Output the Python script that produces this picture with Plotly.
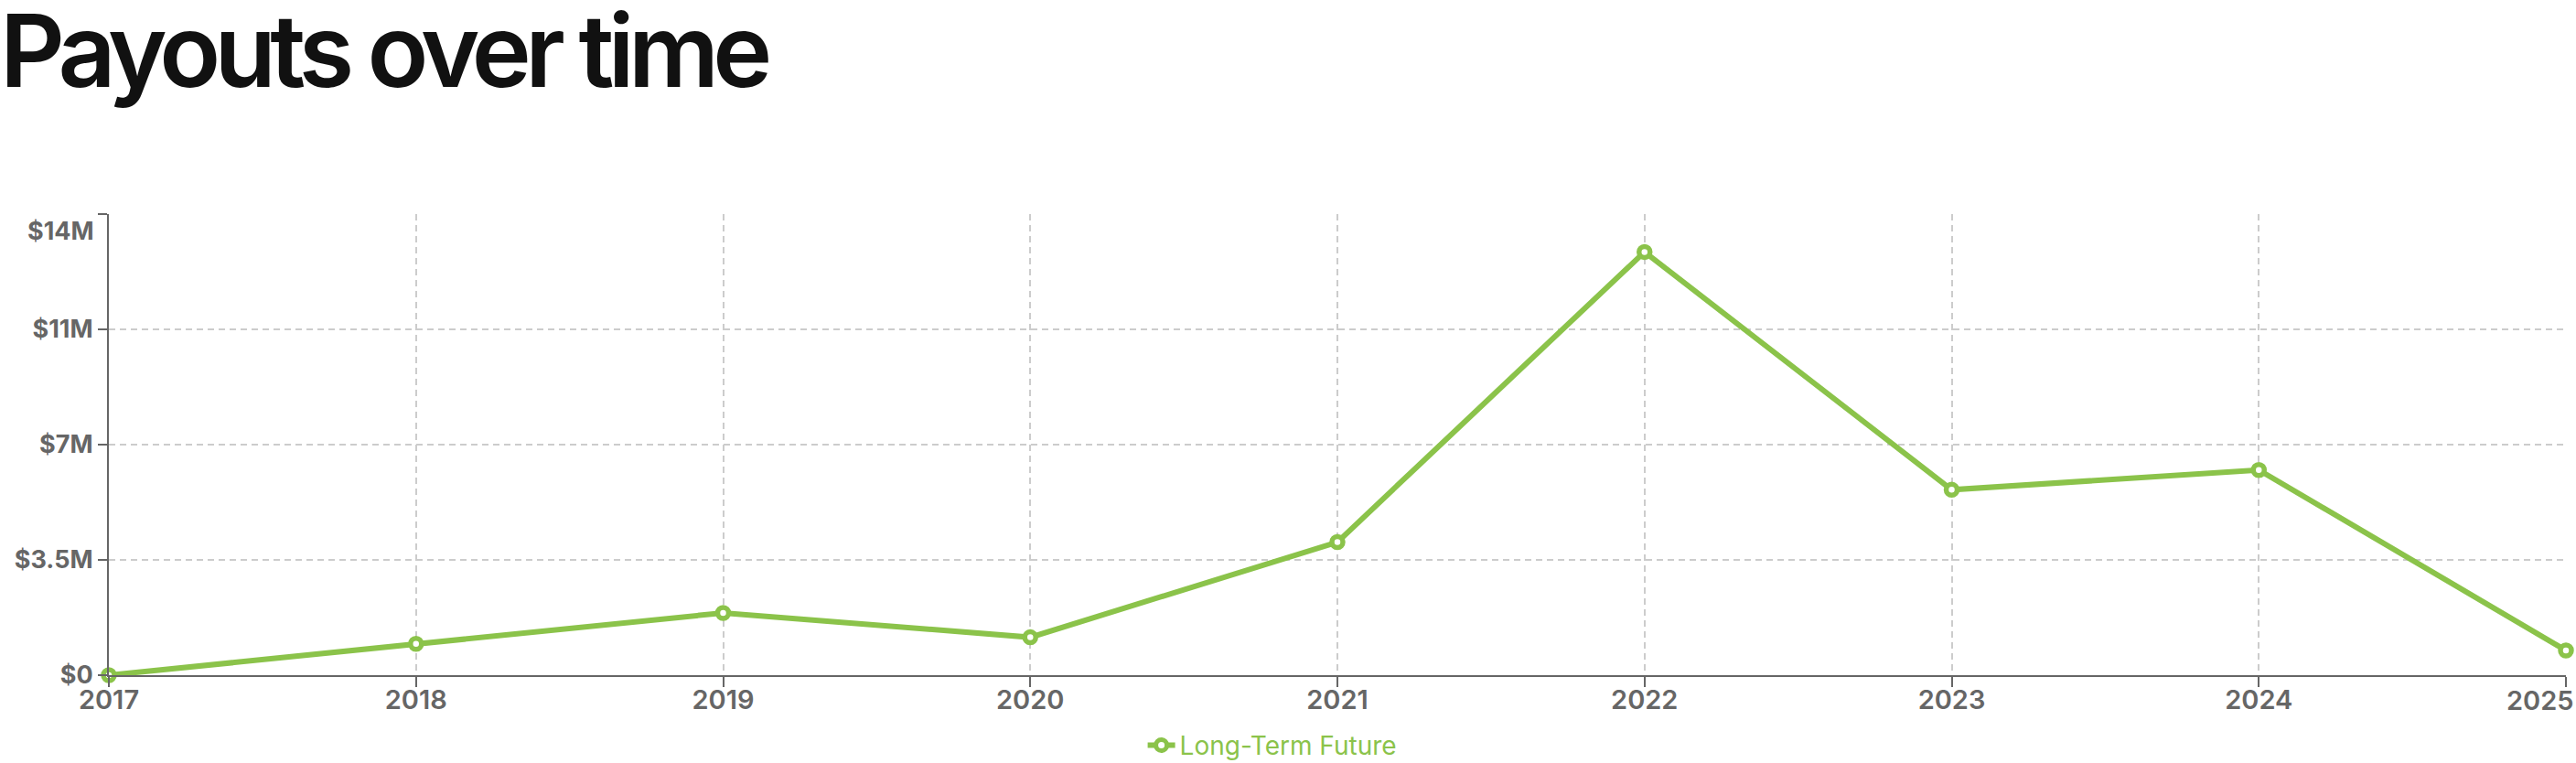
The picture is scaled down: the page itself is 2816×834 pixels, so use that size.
import plotly.graph_objects as go

# ---- data ----
years = [2017, 2018, 2019, 2020, 2021, 2022, 2023, 2024, 2025]
payouts = [0, 0.95e6, 1.89e6, 1.15e6, 4.04e6, 12.85e6, 5.63e6, 6.23e6, 0.75e6]
series_name = "Long-Term Future"
y_tick_vals = [0, 3.5e6, 7e6, 10.5e6, 14e6]
y_tick_text = ["$0", "$3.5M", "$7M", "$11M", "$14M"]
x_tick_text = [str(y) for y in years]
title_text = "Payouts over time"

GREEN = "#8bc34a"
AXIS = "#666666"
GRID = "#cccccc"
W, H = 2816, 834

fig = go.Figure()
fig.add_trace(go.Scatter(
    x=years, y=payouts, name=series_name, mode="lines+markers",
    line=dict(color=GREEN, width=6),
    marker=dict(symbol="circle", size=12, color="white",
                line=dict(color=GREEN, width=5.5)),
    cliponaxis=False,
))

# Last x label and top y label are nudged inward in the reference: draw as annotations
xt = x_tick_text[:-1] + [""]
yt = y_tick_text[:-1] + [""]

x_font = dict(family="Inter", size=29, color=AXIS, weight=600)
y_font = dict(family="Inter", size=27, color=AXIS, weight=700)

fig.update_layout(
    width=W, height=H,
    margin=dict(l=119, r=11, t=234, b=96, autoexpand=False),
    paper_bgcolor="white", plot_bgcolor="white",
    title=dict(text=title_text, x=0, xref="container", xanchor="left",
               y=1, yref="container", yanchor="top", pad=dict(t=18, l=0),
               font=dict(family="Inter", size=110, color="#111111", weight=600)),
    showlegend=True,
    legend=dict(orientation="h", xref="container", x=0.494, xanchor="center",
                yref="container", y=0.023, yanchor="middle",
                font=dict(family="Inter", size=28, color=GREEN)),
    xaxis=dict(range=[years[0], years[-1]], tickvals=years, ticktext=xt,
               automargin=False, ticklabelstandoff=-11,
               showline=True, linecolor=AXIS, linewidth=2,
               ticks="outside", ticklen=11, tickwidth=2, tickcolor=AXIS,
               showgrid=True, gridcolor=GRID, griddash="7px,5px", gridwidth=1.5,
               zeroline=False, tickfont=x_font),
    yaxis=dict(range=[0, 14e6], tickvals=y_tick_vals, ticktext=yt,
               automargin=False,
               showline=True, linecolor=AXIS, linewidth=2,
               ticks="outside", ticklen=10, tickwidth=2, tickcolor=AXIS,
               showgrid=True, gridcolor=GRID, griddash="7px,5px", gridwidth=1.5,
               zeroline=False, tickfont=y_font),
)

fig.add_annotation(text=x_tick_text[-1], xref="paper", yref="paper", x=1, y=0,
                   xanchor="right", yanchor="top", xshift=11, yshift=-8,
                   showarrow=False, font=x_font)
fig.add_annotation(text=y_tick_text[-1], xref="paper", yref="y", x=0, y=y_tick_vals[-1],
                   xanchor="right", yanchor="middle", xshift=-14, yshift=-18,
                   showarrow=False, font=y_font)

post = """
document.body.style.margin = '0';
var gd = document.getElementById('{plot_id}');
gd.querySelectorAll('.gtitle').forEach(function(t){ t.style.letterSpacing = '-0.06em'; });
"""

fig.write_html("out.html", post_script=post, config={"displayModeBar": False})
